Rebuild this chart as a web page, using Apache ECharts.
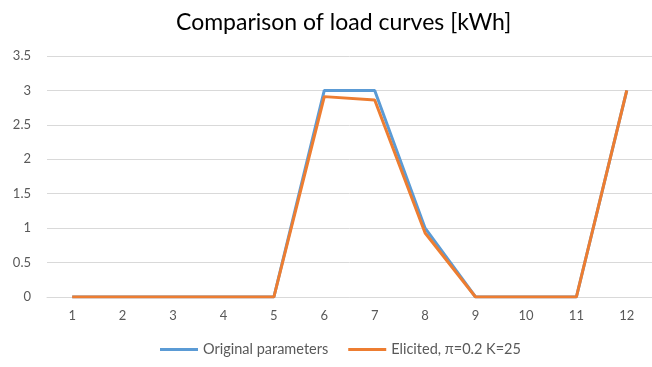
<!DOCTYPE html>
<html>
<head>
<meta charset="utf-8">
<script src="https://cdn.jsdelivr.net/npm/echarts@6/dist/echarts.min.js"></script>
<style>
  html, body { margin: 0; padding: 0; background: #fff; }
  #chart { width: 652px; height: 367px; }
</style>
</head>
<body>
<div id="chart"></div>
<script>
// hours of the day (categories)
const hours = ['1', '2', '3', '4', '5', '6', '7', '8', '9', '10', '11', '12']
const original = [0, 0, 0, 0, 0, 3, 3, 1, 0, 0, 0, 3]
const elicited = [0, 0, 0, 0, 0, 2.91, 2.86, 0.93, 0, 0, 0, 3]

const myChart = echarts.init(document.getElementById('chart'))
const option = {
  animation: false,
  title: {
    text: 'Comparison of load curves [kWh]',
    left: 171,
    top: 6,
    textStyle: {
      fontFamily: 'Lato',
      fontWeight: 'normal',
      fontSize: 23,
      color: '#000'
    }
  },
  legend: {
    left: 155,
    bottom: 5,
    itemWidth: 38,
    itemHeight: 3,
    itemGap: 20,
    icon: 'rect',
    textStyle: {
      fontFamily: 'Lato',
      fontSize: 14.5,
      color: '#595959'
    },
    data: ['Original parameters', 'Elicited, π=0.2 K=25']
  },
  grid: {
    left: 47,
    right: -2,
    top: 56,
    bottom: 70
  },
  xAxis: {
    type: 'category',
    data: hours,
    boundaryGap: true,
    axisLine: { lineStyle: { color: '#d9d9d9' } },
    axisTick: { show: false },
    axisLabel: {
      fontFamily: 'Lato',
      fontSize: 13,
      color: '#595959',
      margin: 12
    }
  },
  yAxis: {
    type: 'value',
    min: 0,
    max: 3.5,
    interval: 0.5,
    axisLine: { show: false },
    axisTick: { show: false },
    splitLine: { lineStyle: { color: '#d9d9d9' } },
    axisLabel: {
      fontFamily: 'Lato',
      fontSize: 13,
      color: '#595959',
      margin: 16
    }
  },
  series: [
    {
      name: 'Original parameters',
      type: 'line',
      data: original,
      symbol: 'none',
      lineStyle: { color: '#5b9bd5', width: 3 },
      itemStyle: { color: '#5b9bd5' }
    },
    {
      name: 'Elicited, π=0.2 K=25',
      type: 'line',
      data: elicited,
      symbol: 'none',
      lineStyle: { color: '#ed7d31', width: 3 },
      itemStyle: { color: '#ed7d31' }
    }
  ]
}
myChart.setOption(option)
</script>
</body>
</html>
